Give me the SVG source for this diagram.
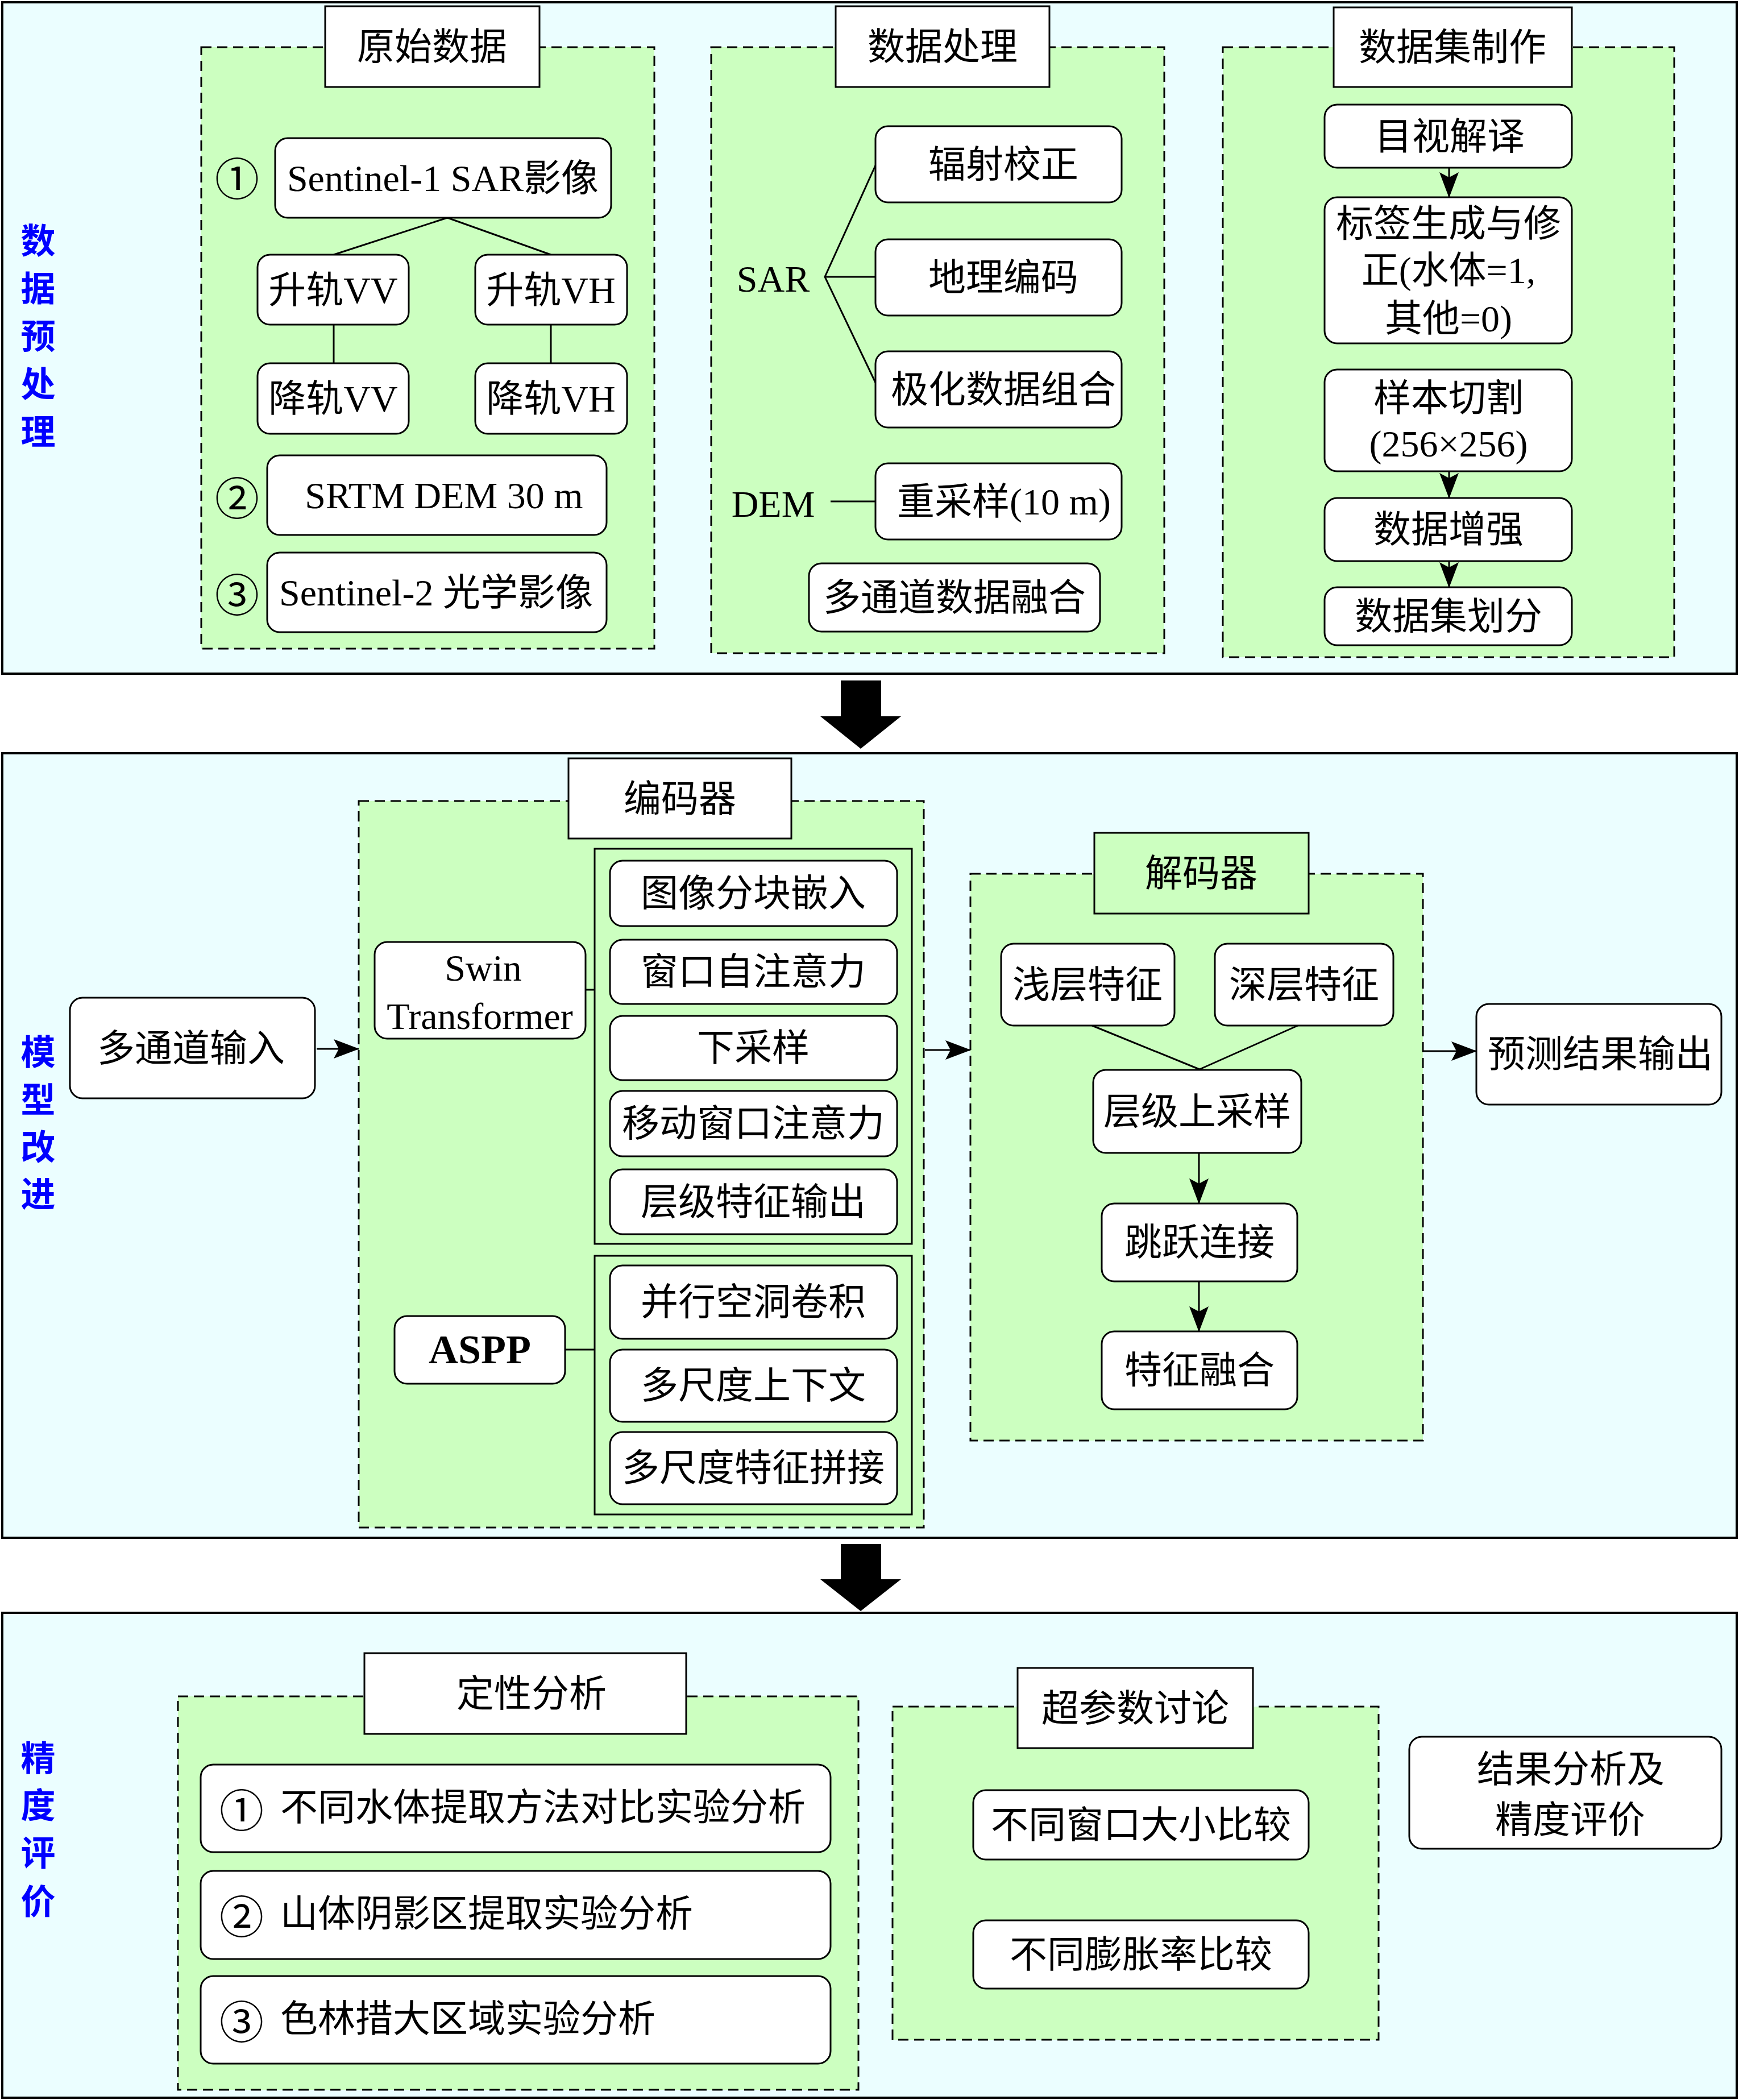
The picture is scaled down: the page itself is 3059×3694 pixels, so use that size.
<svg xmlns="http://www.w3.org/2000/svg" width="3059" height="3694" viewBox="0 0 3059 3694">
<style>
.sec{fill:#EBFEFF;stroke:#000;stroke-width:4}
.grp{fill:#CCFFC0;stroke:#000;stroke-width:3;stroke-dasharray:18 10}
.ttl{fill:#fff;stroke:#000;stroke-width:3}
.ttlg{fill:#CCFFC0;stroke:#000;stroke-width:3}
.nd{fill:#fff;stroke:#000;stroke-width:3}
.box{fill:none;stroke:#000;stroke-width:3}
.t{font-family:"Liberation Serif","Noto Sans CJK SC",serif;font-size:66px;text-anchor:middle;dominant-baseline:central;fill:#000}
.ts{font-family:"Liberation Serif","Noto Sans CJK SC",serif;font-size:66px;text-anchor:start;dominant-baseline:central;fill:#000}
.cn{font-family:"Noto Sans CJK SC","DejaVu Sans",sans-serif;font-size:78px;text-anchor:middle;dominant-baseline:central;fill:#000}
.lbl{font-family:"Noto Sans CJK SC",sans-serif;font-weight:bold;font-size:61px;fill:#0000FF;text-anchor:middle;dominant-baseline:central}
.ln{stroke:#000;stroke-width:3;fill:none}
.ar{stroke:#000;stroke-width:3;fill:none;marker-end:url(#ah)}
.big{fill:#000}
</style>
<defs>
<marker id="ah" markerUnits="userSpaceOnUse" markerWidth="45" markerHeight="36" viewBox="0 0 45 36" refX="44" refY="18" orient="auto">
<path d="M0,1 L45,18 L0,35 L9,18 Z" fill="#000"/>
</marker>
</defs>
<rect width="3059" height="3694" fill="#fff"/>

<!-- Sections -->
<rect class="sec" x="4" y="4" width="3051" height="1181"/>
<rect class="sec" x="4" y="1325" width="3051" height="1380"/>
<rect class="sec" x="4" y="2837" width="3051" height="853"/>

<g id="label-preprocess">
<text class="lbl" x="67" y="419">数</text>
<text class="lbl" x="67" y="503">据</text>
<text class="lbl" x="67" y="587">预</text>
<text class="lbl" x="67" y="671">处</text>
<text class="lbl" x="67" y="755">理</text>
</g>
<g id="label-model">
<text class="lbl" x="67" y="1846">模</text>
<text class="lbl" x="67" y="1930">型</text>
<text class="lbl" x="67" y="2013">改</text>
<text class="lbl" x="67" y="2096">进</text>
</g>
<g id="label-eval">
<text class="lbl" x="67" y="3088">精</text>
<text class="lbl" x="67" y="3171">度</text>
<text class="lbl" x="67" y="3255">评</text>
<text class="lbl" x="67" y="3340">价</text>
</g>

<!-- Group containers -->
<g id="grp-raw">
<rect class="grp" x="354" y="83" width="797" height="1058"/>
<rect class="ttl" x="572" y="11" width="377" height="142"/>
<text class="t" x="760" y="82">原始数据</text>
</g>
<g id="grp-proc">
<rect class="grp" x="1251" y="83" width="797" height="1066"/>
<rect class="ttl" x="1470" y="11" width="376" height="142"/>
<text class="t" x="1658" y="82">数据处理</text>
</g>
<g id="grp-dataset">
<rect class="grp" x="2151" y="83" width="794" height="1073"/>
<rect class="ttl" x="2346" y="13" width="419" height="140"/>
<text class="t" x="2555" y="83">数据集制作</text>
</g>
<g id="grp-encoder">
<rect class="grp" x="631" y="1409" width="994" height="1278"/>
<rect class="ttl" x="1000" y="1334" width="392" height="141"/>
<text class="t" x="1196" y="1405">编码器</text>
</g>
<g id="grp-decoder">
<rect class="grp" x="1707" y="1537" width="796" height="997"/>
<rect class="ttlg" x="1925" y="1465" width="377" height="142"/>
<text class="t" x="2113" y="1536">解码器</text>
</g>
<g id="grp-qual">
<rect class="grp" x="313" y="2984" width="1197" height="692"/>
<rect class="ttl" x="641" y="2908" width="566" height="142"/>
<text class="t" x="935" y="2979">定性分析</text>
</g>
<g id="grp-hyper">
<rect class="grp" x="1570" y="3002" width="855" height="586"/>
<rect class="ttl" x="1790" y="2934" width="414" height="141"/>
<text class="t" x="1997" y="3005">超参数讨论</text>
</g>

<!-- Connectors -->
<g id="connectors">
<line class="ln" x1="787" y1="383" x2="587" y2="448"/>
<line class="ln" x1="787" y1="383" x2="969" y2="448"/>
<line class="ln" x1="587" y1="571" x2="587" y2="639"/>
<line class="ln" x1="969" y1="571" x2="969" y2="639"/>
<polyline class="ln" points="1540,291 1451,487 1540,673"/>
<line class="ln" x1="1451" y1="487" x2="1540" y2="487"/>
<line class="ln" x1="1461" y1="882" x2="1540" y2="882"/>
<line class="ar" x1="2549" y1="295" x2="2549" y2="347"/>
<line class="ar" x1="2549" y1="829" x2="2549" y2="876"/>
<line class="ar" x1="2549" y1="987" x2="2549" y2="1033"/>
<line class="ar" x1="557" y1="1845" x2="631" y2="1845"/>
<line class="ln" x1="1030" y1="1741" x2="1046" y2="1741"/>
<line class="ln" x1="994" y1="2374" x2="1046" y2="2374"/>
<line class="ar" x1="1627" y1="1847" x2="1707" y2="1847"/>
<line class="ln" x1="1921" y1="1804" x2="2110" y2="1881"/>
<line class="ln" x1="2283" y1="1804" x2="2110" y2="1881"/>
<line class="ar" x1="2109" y1="2028" x2="2109" y2="2117"/>
<line class="ar" x1="2109" y1="2254" x2="2109" y2="2342"/>
<line class="ar" x1="2503" y1="1849" x2="2597" y2="1849"/>
<polygon class="big" points="1479,1197 1550,1197 1550,1260 1585,1260 1514,1317 1443,1260 1479,1260"/>
<polygon class="big" points="1479,2716 1550,2716 1550,2778 1585,2778 1514,2834 1443,2778 1479,2778"/>
</g>

<!-- Section 1 nodes -->
<g id="n-s1">
<text class="cn" x="417" y="310">①</text>
<rect class="nd" x="484" y="243" width="591" height="140" rx="22"/>
<text class="t" x="779" y="313">Sentinel-1 SAR影像</text>
</g>
<g id="n-asc-vv"><rect class="nd" x="453" y="448" width="266" height="123" rx="22"/><text class="t" x="586" y="510">升轨VV</text></g>
<g id="n-asc-vh"><rect class="nd" x="836" y="448" width="267" height="123" rx="22"/><text class="t" x="969" y="510">升轨VH</text></g>
<g id="n-dsc-vv"><rect class="nd" x="453" y="639" width="266" height="124" rx="22"/><text class="t" x="586" y="701">降轨VV</text></g>
<g id="n-dsc-vh"><rect class="nd" x="836" y="639" width="267" height="124" rx="22"/><text class="t" x="969" y="701">降轨VH</text></g>
<g id="n-srtm">
<text class="cn" x="417" y="872">②</text>
<rect class="nd" x="470" y="801" width="597" height="140" rx="22"/>
<text class="t" x="781" y="871">SRTM DEM 30 m</text>
</g>
<g id="n-s2">
<text class="cn" x="417" y="1042">③</text>
<rect class="nd" x="470" y="972" width="597" height="140" rx="22"/>
<text class="t" x="767" y="1042">Sentinel-2 光学影像</text>
</g>

<g id="n-sar"><text class="t" x="1360" y="490">SAR</text></g>
<g id="n-dem"><text class="t" x="1360" y="886">DEM</text></g>
<g id="n-rad"><rect class="nd" x="1540" y="222" width="433" height="134" rx="22"/><text class="t" x="1765" y="289">辐射校正</text></g>
<g id="n-geo"><rect class="nd" x="1540" y="421" width="433" height="134" rx="22"/><text class="t" x="1765" y="488">地理编码</text></g>
<g id="n-pol"><rect class="nd" x="1540" y="618" width="433" height="134" rx="22"/><text class="t" x="1765" y="685">极化数据组合</text></g>
<g id="n-resamp"><rect class="nd" x="1540" y="815" width="433" height="134" rx="22"/><text class="t" x="1766" y="882">重采样(10 m)</text></g>
<g id="n-fuse"><rect class="nd" x="1423" y="991" width="512" height="120" rx="22"/><text class="t" x="1679" y="1051">多通道数据融合</text></g>

<g id="n-visual"><rect class="nd" x="2330" y="184" width="435" height="111" rx="22"/><text class="t" x="2550" y="240">目视解译</text></g>
<g id="n-label"><rect class="nd" x="2330" y="347" width="435" height="257" rx="22"/>
<text class="t" x="2548" y="393">标签生成与修</text>
<text class="t" x="2548" y="475">正(水体=1,</text>
<text class="t" x="2548" y="560">其他=0)</text></g>
<g id="n-cut"><rect class="nd" x="2330" y="650" width="435" height="179" rx="22"/>
<text class="t" x="2548" y="700">样本切割</text>
<text class="t" x="2548" y="780">(256×256)</text></g>
<g id="n-aug"><rect class="nd" x="2330" y="876" width="435" height="111" rx="22"/><text class="t" x="2548" y="931">数据增强</text></g>
<g id="n-split"><rect class="nd" x="2330" y="1033" width="435" height="102" rx="22"/><text class="t" x="2548" y="1084">数据集划分</text></g>

<!-- Section 2 nodes -->
<g id="n-input"><rect class="nd" x="123" y="1755" width="431" height="177" rx="22"/><text class="t" x="336" y="1844">多通道输入</text></g>
<g id="n-swin"><rect class="nd" x="659" y="1657" width="371" height="170" rx="22"/>
<text class="t" x="850" y="1702">Swin</text>
<text class="t" x="844" y="1787">Transformer</text></g>
<g id="n-swin-stack">
<rect class="box" x="1046" y="1493" width="558" height="695"/>
<rect class="nd" x="1073" y="1514" width="505" height="115" rx="22"/><text class="t" x="1325" y="1571">图像分块嵌入</text>
<rect class="nd" x="1073" y="1653" width="505" height="113" rx="22"/><text class="t" x="1325" y="1709">窗口自注意力</text>
<rect class="nd" x="1073" y="1787" width="505" height="113" rx="22"/><text class="t" x="1325" y="1843">下采样</text>
<rect class="nd" x="1073" y="1919" width="505" height="115" rx="22"/><text class="t" x="1325" y="1976">移动窗口注意力</text>
<rect class="nd" x="1073" y="2057" width="505" height="114" rx="22"/><text class="t" x="1325" y="2114">层级特征输出</text>
</g>
<g id="n-aspp"><rect class="nd" x="694" y="2315" width="300" height="119" rx="22"/>
<text class="t" x="844" y="2374" style="font-weight:bold;font-size:72px">ASPP</text></g>
<g id="n-aspp-stack">
<rect class="box" x="1046" y="2209" width="558" height="455"/>
<rect class="nd" x="1073" y="2226" width="505" height="129" rx="22"/><text class="t" x="1325" y="2290">并行空洞卷积</text>
<rect class="nd" x="1073" y="2374" width="505" height="127" rx="22"/><text class="t" x="1325" y="2437">多尺度上下文</text>
<rect class="nd" x="1073" y="2519" width="505" height="127" rx="22"/><text class="t" x="1325" y="2582">多尺度特征拼接</text>
</g>
<g id="n-shallow"><rect class="nd" x="1761" y="1660" width="305" height="144" rx="22"/><text class="t" x="1913" y="1732">浅层特征</text></g>
<g id="n-deep"><rect class="nd" x="2137" y="1660" width="314" height="144" rx="22"/><text class="t" x="2294" y="1732">深层特征</text></g>
<g id="n-up"><rect class="nd" x="1923" y="1882" width="366" height="146" rx="22"/><text class="t" x="2106" y="1955">层级上采样</text></g>
<g id="n-skip"><rect class="nd" x="1938" y="2117" width="344" height="137" rx="22"/><text class="t" x="2110" y="2185">跳跃连接</text></g>
<g id="n-ffuse"><rect class="nd" x="1938" y="2342" width="344" height="137" rx="22"/><text class="t" x="2110" y="2410">特征融合</text></g>
<g id="n-pred"><rect class="nd" x="2597" y="1766" width="431" height="177" rx="22"/><text class="t" x="2815" y="1854">预测结果输出</text></g>

<!-- Section 3 nodes -->
<g id="n-q1"><rect class="nd" x="353" y="3104" width="1108" height="154" rx="22"/><text class="cn" x="425" y="3180">①</text><text class="ts" x="493" y="3179">不同水体提取方法对比实验分析</text></g>
<g id="n-q2"><rect class="nd" x="353" y="3291" width="1108" height="155" rx="22"/><text class="cn" x="425" y="3367">②</text><text class="ts" x="493" y="3366">山体阴影区提取实验分析</text></g>
<g id="n-q3"><rect class="nd" x="353" y="3476" width="1108" height="154" rx="22"/><text class="cn" x="425" y="3552">③</text><text class="ts" x="493" y="3551">色林措大区域实验分析</text></g>
<g id="n-win"><rect class="nd" x="1712" y="3149" width="590" height="122" rx="22"/><text class="t" x="2007" y="3210">不同窗口大小比较</text></g>
<g id="n-dil"><rect class="nd" x="1712" y="3378" width="590" height="120" rx="22"/><text class="t" x="2007" y="3438">不同膨胀率比较</text></g>
<g id="n-result"><rect class="nd" x="2479" y="3055" width="549" height="197" rx="22"/>
<text class="t" x="2763" y="3112">结果分析及</text>
<text class="t" x="2762" y="3201">精度评价</text></g>
</svg>
